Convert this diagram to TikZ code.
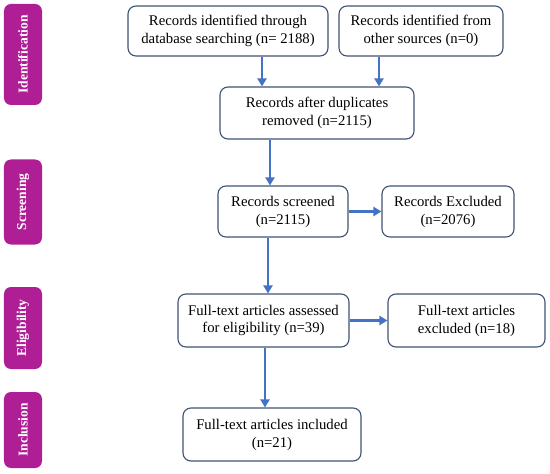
\documentclass[tikz,border=0pt]{standalone}
\usepackage{fontspec}
\setmainfont{Liberation Serif}
\usetikzlibrary{arrows.meta}
\definecolor{stagemag}{HTML}{B01E96}
\definecolor{arrblue}{HTML}{4472C4}
\definecolor{boxline}{HTML}{3F5373}
\begin{document}
\begin{tikzpicture}[x=1bp, y=-1bp, font=\fontsize{14.8}{18}\selectfont,
  box/.style={draw=boxline, line width=1.1bp, rounded corners=8bp, align=center, fill=white, inner sep=2bp},
  stage/.style={fill=stagemag, rounded corners=7bp, rotate=90, minimum height=38bp,
    text=white, font=\fontsize{13.6}{15}\selectfont\bfseries},
  arr/.style={draw=arrblue, line width=2.6bp, -{Triangle[length=8bp, width=9bp]}}]
  \useasboundingbox (0,0) rectangle (550,474);
  % stage bars on the left
  \node[stage, minimum width=101bp] (sid) at (23,54.5) {Identification};
  \node[stage, minimum width=85bp] (ssc) at (23,202) {Screening};
  \node[stage, minimum width=82bp] (sel) at (23,328) {Eligibility};
  \node[stage, minimum width=76bp] (sin) at (23,430) {Inclusion};
  % flow boxes
  \node[box, minimum width=200bp, minimum height=50bp] (db) at (228,31) {Records identified through\\database searching (n= 2188)};
  \node[box, minimum width=164bp, minimum height=50bp] (oth) at (421,31) {Records identified from\\other sources (n=0)};
  \node[box, minimum width=194bp, minimum height=52bp] (dup) at (317,113) {Records after duplicates\\removed (n=2115)};
  \node[box, minimum width=130bp, minimum height=51bp] (scr) at (283,211.5) {Records screened\\(n=2115)};
  \node[box, minimum width=132bp, minimum height=51bp] (exc) at (448,211.5) {Records Excluded\\(n=2076)};
  \node[box, minimum width=171bp, minimum height=53bp] (ft) at (263.5,320.5) {Full-text articles assessed\\for eligibility (n=39)};
  \node[box, minimum width=157bp, minimum height=53bp] (fte) at (466.5,320.5) {Full-text articles\\excluded (n=18)};
  \node[box, minimum width=178bp, minimum height=53bp] (inc) at (272,434.5) {Full-text articles included\\(n=21)};
  % arrows
  \draw[arr] ([xshift=34bp]db.south) -- ([xshift=34bp]db.south |- dup.north);
  \draw[arr] ([xshift=-42bp]oth.south) -- ([xshift=-42bp]oth.south |- dup.north);
  \draw[arr] ([xshift=-13bp]scr.north |- dup.south) -- ([xshift=-13bp]scr.north);
  \draw[arr] ([xshift=-15bp]scr.south) -- ([xshift=-15bp]scr.south |- ft.north);
  \draw[arr] ([xshift=1.5bp]ft.south) -- ([xshift=1.5bp]ft.south |- inc.north);
  \draw[arr] (scr.east) -- (exc.west);
  \draw[arr] (ft.east) -- (fte.west);
\end{tikzpicture}
\end{document}
